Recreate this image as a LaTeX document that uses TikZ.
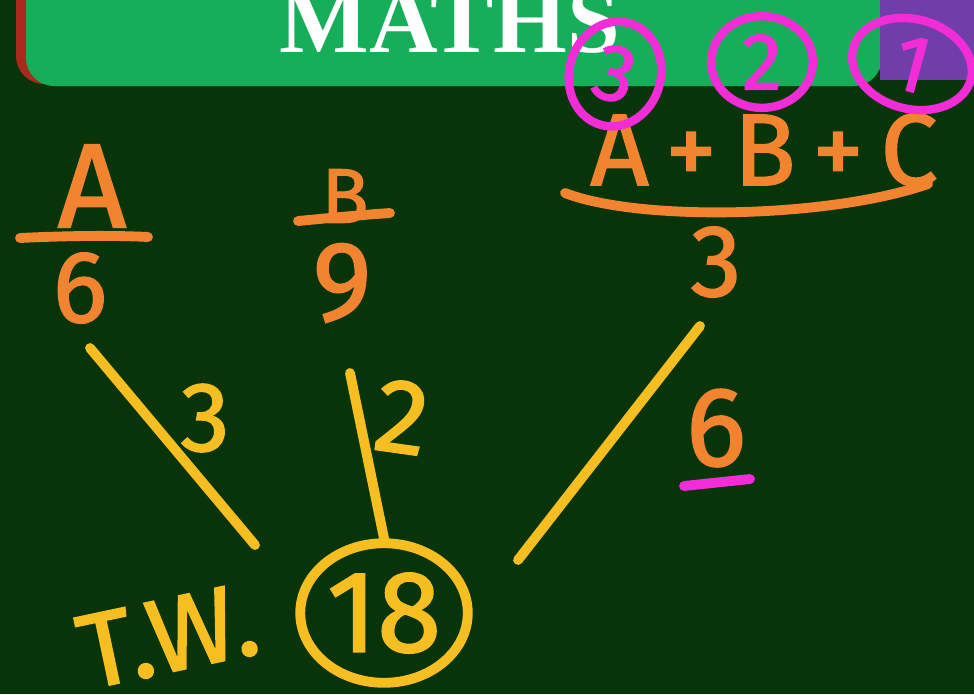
\documentclass[tikz,border=0pt]{standalone}
\usepackage{fontspec}
\setmainfont{Fira Sans}
\newfontfamily\hand[FakeBold=1.6]{Fira Sans}
\newfontfamily\titlefont{Liberation Serif}
\usetikzlibrary{shapes.geometric}
\definecolor{board}{RGB}{7,52,9}
\definecolor{banner}{RGB}{22,174,88}
\definecolor{bannerred}{RGB}{170,40,30}
\definecolor{purp}{RGB}{112,62,168}
\definecolor{orng}{RGB}{242,132,48}
\definecolor{yel}{RGB}{246,190,32}
\definecolor{mag}{RGB}{242,44,214}
\begin{document}
\begin{tikzpicture}[x=0.01cm,y=-0.01cm,
  chalk/.style={line width=2.8pt,line cap=round,line join=round},
  otext/.style={text=orng,font=\hand\fontsize{#1}{#1}\selectfont,inner sep=0pt},
  ytext/.style={text=yel,font=\hand\fontsize{#1}{#1}\selectfont,inner sep=0pt},
  mring/.style={draw=mag,line width=2.4pt,ellipse,inner sep=0pt,text=mag,font=\hand\fontsize{23}{23}\selectfont}]
\fill[board] (0,0) rectangle (974,694);
\useasboundingbox (0,0) rectangle (974,694);
% banner
\fill[bannerred,rounded corners=8pt] (16,-30) rectangle (880,84);
\fill[banner,rounded corners=8pt] (26,-30) rectangle (882,86);
\fill[purp] (880,0) rectangle (974,80);
\node[anchor=base,text=white,font=\titlefont\bfseries\fontsize{27}{27}\selectfont,inner sep=0pt] (title) at (450,52) {MATHS};
% fraction A/6
\node[otext=34] (numA) at (92,186) {A};
\draw[chalk,orng] (20,238) .. controls (60,236) and (110,235) .. (148,237);
\node[otext=29] (den6) at (80,288) {6};
% fraction B/9
\node[otext=22] (numB) at (345,196) {B};
\draw[chalk,orng] (298,221) .. controls (330,218) and (360,215) .. (390,213);
\node[otext=32] (den9) at (342,283) {9};
% fraction (A+B+C)/3
\node[otext=29] (numABC) at (764,150) {A\,+\,B\,+\,C};
\draw[chalk,orng] (565,193) .. controls (640,222) and (830,218) .. (928,184);
\node[otext=29] (den3) at (716,262) {3};
% circled order numbers
\node[mring,minimum width=92pt*0.2835,minimum height=106pt*0.2835,rotate=-15] (o3) at (615,74) {3};
\node[mring,minimum width=102pt*0.2835,minimum height=92pt*0.2835] (o2) at (762,62) {2};
\node[mring,minimum width=122pt*0.2835,minimum height=90pt*0.2835,rotate=-15] (o1) at (912,64) {1};
% total weight
\node[ytext=30,rotate=12] (tw) at (168,636) {T.W.};
\node[ellipse,draw=yel,line width=2.8pt,minimum width=168pt*0.2835,minimum height=140pt*0.2835,ytext=33] (n18) at (384,613) {18};
% connectors
\coordinate (a1) at (90,348);
\coordinate (a2) at (255,545);
\coordinate (b1) at (350,373);
\coordinate (c1) at (700,326);
\coordinate (c2) at (518,560);
\draw[chalk,yel] (a1) -- (a2);
\draw[chalk,yel] (b1) -- (n18.north);
\draw[chalk,yel] (c1) -- (c2);
% weights
\node[ytext=28] (w3) at (205,418) {3};
\node[ytext=30,rotate=-8] (w2) at (402,417) {2};
\node[otext=32] (w6) at (716,428) {6};
\draw[chalk,mag] (684,486) -- (750,479);
\end{tikzpicture}
\end{document}
